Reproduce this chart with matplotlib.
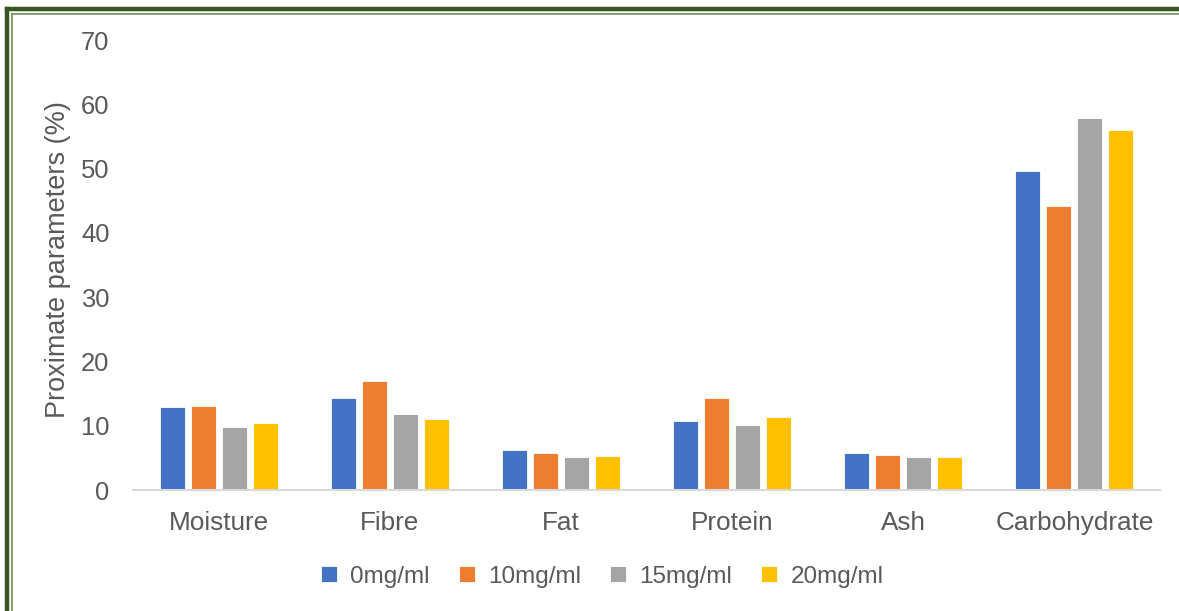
import matplotlib.pyplot as plt
import numpy as np
from matplotlib.lines import Line2D

plt.rcParams['font.family'] = ['Liberation Sans', 'DejaVu Sans']

categories = ['Moisture', 'Fibre', 'Fat', 'Protein', 'Ash', 'Carbohydrate']
series_names = ['0mg/ml', '10mg/ml', '15mg/ml', '20mg/ml']
conc_0 = [12.9, 14.3, 6.2, 10.8, 5.7, 49.6]
conc_10 = [13.1, 17.0, 5.7, 14.3, 5.45, 44.2]
conc_15 = [9.75, 11.8, 5.1, 10.1, 5.1, 57.9]
conc_20 = [10.5, 11.1, 5.3, 11.35, 5.2, 56.0]
colors = ['#4472C4', '#ED7D31', '#A5A5A5', '#FFC000']

text_color = '#595959'

fig = plt.figure(figsize=(11.79, 6.11), dpi=100)
ax = fig.add_axes([0.1128, 0.198, 0.871, 0.7365])

x = np.arange(len(categories))
width = 0.146
step = 0.181
offsets = (np.arange(4) - 1.5) * step
for i, vals in enumerate([conc_0, conc_10, conc_15, conc_20]):
    ax.bar(x + offsets[i], vals, width, color=colors[i], label=series_names[i],
           edgecolor='white', linewidth=0.6)

ax.set_xlim(-0.5, 5.5)
ax.set_ylim(0, 70)
ax.set_yticks(range(0, 71, 10))
ax.set_xticks(x)
ax.set_xticklabels(categories)
ax.tick_params(axis='both', length=0, colors=text_color)
ax.tick_params(axis='x', pad=15, labelsize=18.8)
ax.tick_params(axis='y', pad=17, labelsize=18.4)
ax.set_ylabel('Proximate parameters (%)', color=text_color, fontsize=19.5)
ax.yaxis.set_label_coords(-0.06, 0.513)

for side in ['top', 'right', 'left']:
    ax.spines[side].set_visible(False)
ax.spines['bottom'].set_color('#D9D9D9')
ax.spines['bottom'].set_linewidth(1.5)

ax.legend(loc='center', bbox_to_anchor=(0.457, -0.193), ncol=4, frameon=False,
          fontsize=17.5, labelcolor=text_color, handlelength=0.65, handleheight=0.65,
          handletextpad=0.55, columnspacing=1.2)

# double green frame around the chart
W, H = 1179, 611
fig.add_artist(Line2D([7.5 / W, 1.0], [1 - 9 / H, 1 - 9 / H], transform=fig.transFigure,
                      color='#375623', linewidth=3.2))
fig.add_artist(Line2D([7.5 / W, 7.5 / W], [0, 1 - 9 / H], transform=fig.transFigure,
                      color='#375623', linewidth=3.2))
fig.add_artist(Line2D([11.8 / W, 1.0], [1 - 13.5 / H, 1 - 13.5 / H], transform=fig.transFigure,
                      color='#6E8F55', linewidth=1.2))
fig.add_artist(Line2D([11.8 / W, 11.8 / W], [0, 1 - 13.5 / H], transform=fig.transFigure,
                      color='#6E8F55', linewidth=1.2))

fig.savefig('out.png', dpi=100)
